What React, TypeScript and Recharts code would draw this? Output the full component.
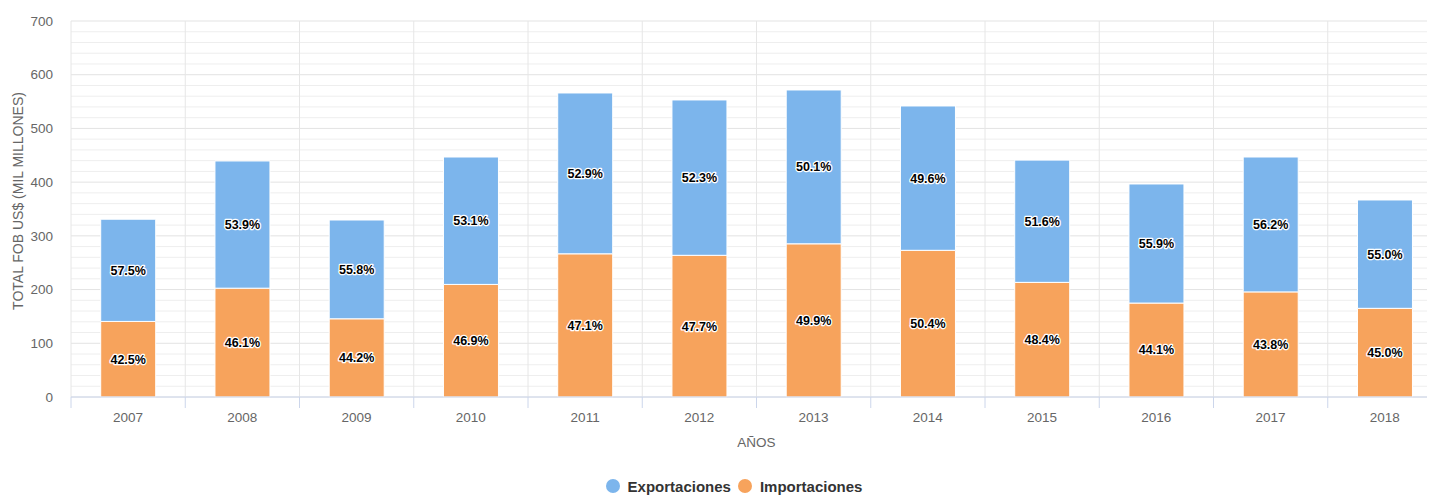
import React from 'react';
import { BarChart, Bar, XAxis, YAxis, CartesianGrid, LabelList, Legend } from 'recharts';

const years = ['2007', '2008', '2009', '2010', '2011', '2012', '2013', '2014', '2015', '2016', '2017', '2018'];
const exportaciones = [190.3, 236.8, 183.9, 237.2, 299.4, 289.2, 286.4, 268.7, 227.6, 221.7, 251.1, 201.7];
const importaciones = [140.7, 202.6, 145.6, 209.6, 266.6, 263.8, 285.2, 273.1, 213.4, 174.9, 195.7, 165.1];
const exportPct = ['57.5%', '53.9%', '55.8%', '53.1%', '52.9%', '52.3%', '50.1%', '49.6%', '51.6%', '55.9%', '56.2%', '55.0%'];
const importPct = ['42.5%', '46.1%', '44.2%', '46.9%', '47.1%', '47.7%', '49.9%', '50.4%', '48.4%', '44.1%', '43.8%', '45.0%'];
const yTicks = [0, 20, 40, 60, 80, 100, 120, 140, 160, 180, 200, 220, 240, 260, 280, 300, 320, 340, 360, 380, 400, 420, 440, 460, 480, 500, 520, 540, 560, 580, 600, 620, 640, 660, 680, 700];
const yLabelTicks = [0, 100, 200, 300, 400, 500, 600, 700];

const data = years.map((y, i) => ({
  year: y,
  exp: exportaciones[i],
  imp: importaciones[i],
  expPct: exportPct[i],
  impPct: importPct[i],
}));

const FONT = '"Liberation Sans", Arial, Helvetica, sans-serif';
const CHART_W = 1450;
const CHART_H = 488;
const MARGIN = { top: 13, right: 16, bottom: 0, left: 0 };
const Y_W = 63;
const BAND = (CHART_W - MARGIN.left - MARGIN.right - Y_W) / years.length;

const EXP_COLOR = '#7cb5ec';
const IMP_COLOR = '#f7a35c';

const XTick = (props: any) => {
  const { x, y, payload } = props;
  return (
    <g>
      <line x1={x - BAND / 2} y1={y} x2={x - BAND / 2} y2={y + 11} stroke="#ccd6eb" strokeWidth={1} />
      <text x={x} y={y + 20} dy="0.35em" textAnchor="middle" fill="#666" fontSize={13.5} fontFamily={FONT}>
        {payload.value}
      </text>
    </g>
  );
};

const YTick = (props: any) => {
  const { x, y, payload } = props;
  if (!yLabelTicks.includes(payload.value)) return <g />;
  return (
    <text x={x} y={y} dy="0.35em" textAnchor="end" fill="#666" fontSize={13.5} fontFamily={FONT}>
      {payload.value}
    </text>
  );
};

const YTitle = (props: any) => {
  const vb = props.viewBox || {};
  const cx = 10;
  const cy = vb.y + vb.height / 2 - 8;
  return (
    <text x={cx} y={cy} dy="0.35em" textAnchor="middle" transform={`rotate(-90, ${cx}, ${cy})`} fill="#666" fontSize={14} fontFamily={FONT}>
      TOTAL FOB US$ (MIL MILLONES)
    </text>
  );
};

const XTitle = (props: any) => {
  const vb = props.viewBox || {};
  return (
    <text x={vb.x + vb.width / 2} y={vb.y + 45} dy="0.35em" textAnchor="middle" fill="#666" fontSize={13.5} fontFamily={FONT}>
      AÑOS
    </text>
  );
};

const LegendContent = () => (
  <div style={{ display: 'flex', justifyContent: 'center', alignItems: 'center', height: 20, paddingLeft: 18, fontFamily: FONT, fontSize: 15, fontWeight: 'bold', color: '#333' }}>
    <span style={{ display: 'inline-block', width: 14, height: 14, borderRadius: 7, background: EXP_COLOR, marginRight: 8 }} />
    <span style={{ marginRight: 7 }}>Exportaciones</span>
    <span style={{ display: 'inline-block', width: 14, height: 14, borderRadius: 7, background: IMP_COLOR, marginRight: 8 }} />
    <span>Importaciones</span>
  </div>
);

const gridLine = (props: any) => {
  const { x1, y1, x2, y2, index } = props;
  const major = index % 5 === 0;
  return <line key={`h-${index}`} x1={x1} y1={y1} x2={x2} y2={y2} stroke={major ? '#e3e3e3' : '#eeeeee'} strokeWidth={1} />;
};

const labelStyle = {
  fill: '#000',
  fontSize: 12.5,
  fontWeight: 'bold' as const,
  fontFamily: FONT,
  stroke: '#fff',
  strokeWidth: 2.5,
  paintOrder: 'stroke' as const,
  strokeLinejoin: 'round' as const,
};

export default function App() {
  return (
    <div style={{ width: 1427, height: CHART_H, overflow: 'hidden', background: '#fff' }}>
      <BarChart width={CHART_W} height={CHART_H} data={data} margin={MARGIN} barCategoryGap="26%">
        <CartesianGrid
          stroke="#e6e6e6"
          horizontal={gridLine}
          verticalCoordinatesGenerator={({ offset }: any) =>
            Array.from({ length: years.length + 1 }, (_, i) => offset.left + (i * offset.width) / years.length)
          }
        />
        <XAxis
          dataKey="year"
          height={79}
          axisLine={{ stroke: '#ccd6eb' }}
          tickLine={false}
          tickSize={0}
          tickMargin={0}
          tick={<XTick />}
          interval={0}
          label={<XTitle />}
        />
        <YAxis
          width={Y_W}
          domain={[0, 700]}
          ticks={yTicks}
          interval={0}
          axisLine={false}
          tickLine={false}
          tickSize={0}
          tickMargin={18}
          tick={<YTick />}
          label={<YTitle />}
        />
        <Legend verticalAlign="bottom" align="center" height={20} content={<LegendContent />} />
        <Bar dataKey="imp" stackId="a" fill={IMP_COLOR} stroke="#fff" strokeWidth={1} isAnimationActive={false}>
          <LabelList dataKey="impPct" position="center" style={labelStyle} />
        </Bar>
        <Bar dataKey="exp" stackId="a" fill={EXP_COLOR} stroke="#fff" strokeWidth={1} isAnimationActive={false}>
          <LabelList dataKey="expPct" position="center" style={labelStyle} />
        </Bar>
      </BarChart>
    </div>
  );
}
